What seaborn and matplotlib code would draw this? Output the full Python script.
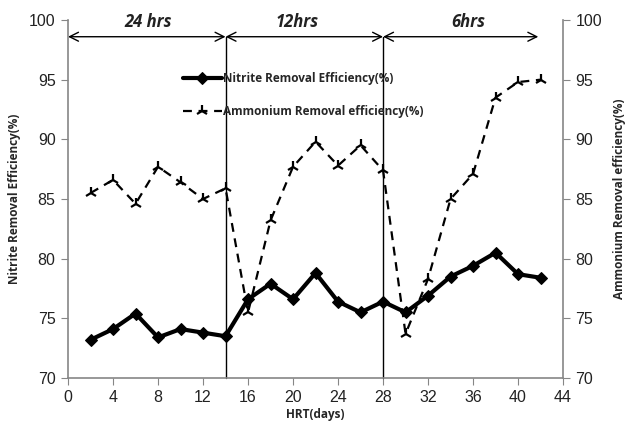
import matplotlib
matplotlib.use("Agg")
import matplotlib.pyplot as plt
import seaborn as sns
import pandas as pd

days = [2, 4, 6, 8, 10, 12, 14, 16, 18, 20, 22, 24, 26, 28, 30, 32, 34, 36, 38, 40, 42]
nitrite = [73.2, 74.1, 75.4, 73.4, 74.1, 73.8, 73.5, 76.6, 77.9, 76.6, 78.8, 76.4,
           75.5, 76.4, 75.5, 76.9, 78.5, 79.4, 80.5, 78.7, 78.4]
ammonium = [85.5, 86.6, 84.6, 87.7, 86.4, 85.0, 85.9, 75.5, 83.2, 87.7, 89.8, 87.8,
            89.5, 87.4, 73.7, 78.3, 85.0, 87.1, 93.5, 94.8, 95.0]
period_bounds = [0, 14, 28, 41.8]
period_labels = ["24 hrs", "12hrs", "6hrs"]
period_label_x = [7.1, 20.4, 35.6]
xticks = list(range(0, 45, 4))
yticks = list(range(70, 101, 5))

df = pd.DataFrame({"day": days, "nitrite": nitrite, "ammonium": ammonium})

sns.set_style("white")
plt.rcParams["font.family"] = ["Liberation Sans", "DejaVu Sans"]
BOLD = ["Open Sans", "DejaVu Sans"]

fig = plt.figure(figsize=(6.27, 4.26), dpi=100)
ax = fig.add_axes([0.1085, 0.1127, 0.7895, 0.8403])
ax2 = ax.twinx()

sns.lineplot(data=df, x="day", y="nitrite", ax=ax, color="black", lw=3,
             marker="D", markersize=6, markeredgecolor="black",
             label="Nitrite Removal Efficiency(%)", legend=False)
sns.lineplot(data=df, x="day", y="ammonium", ax=ax2, color="black", lw=1.6,
             linestyle=(0, (4, 3)), marker="2", markersize=9, markeredgewidth=1.6,
             markeredgecolor="black",
             label="Ammonium Removal efficiency(%)", legend=False)

for a in (ax, ax2):
    a.set_ylim(70, 100)
    a.set_yticks(yticks)
    a.set_xlim(0, 44)
ax.spines["top"].set_visible(False)
ax2.spines["top"].set_visible(False)
ax.spines["right"].set_visible(False)
for a in (ax, ax2):
    for s in ["left", "right", "bottom"]:
        a.spines[s].set_color("#868686")
        a.spines[s].set_linewidth(1.2)
ax2.spines["left"].set_visible(False)
ax2.spines["bottom"].set_visible(False)

ax.set_xticks(xticks)
ax.tick_params(axis="both", direction="out", length=5, color="#868686",
               labelsize=11.5, labelcolor="#222222", pad=4)
ax.tick_params(axis="y", left=True)
ax.tick_params(axis="x", bottom=True)
ax2.tick_params(axis="y", direction="out", length=5, color="#868686",
                labelsize=11.5, labelcolor="#222222", right=True, pad=4)

lab_font = dict(family=BOLD, weight="bold", size=8.5)
ax.set_xlabel("HRT(days)", fontdict=lab_font, labelpad=2)
ax.set_ylabel("Nitrite Removal Efficiency(%)", fontdict=lab_font, labelpad=6)
ax2.set_ylabel("Ammonium Removal efficiency(%)", fontdict=lab_font, labelpad=8)

# period separators and arrows
arrow_y = 98.6
for b in period_bounds[1:-1]:
    ax.plot([b, b], [70, arrow_y], color="black", lw=1, clip_on=False)
for i in range(len(period_labels)):
    ax.annotate("", xy=(period_bounds[i], arrow_y), xytext=(period_bounds[i + 1], arrow_y),
                arrowprops=dict(arrowstyle="<->", color="black", lw=1,
                                mutation_scale=16, shrinkA=0, shrinkB=0),
                annotation_clip=False)
    ax.text(period_label_x[i], 99.8, period_labels[i], ha="center", va="center",
            fontsize=12, fontweight="bold", fontstyle="italic",
            family=BOLD, color="#222222")

h1, l1 = ax.get_legend_handles_labels()
h2, l2 = ax2.get_legend_handles_labels()
leg = ax2.legend(h1 + h2, l1 + l2, loc="upper left", bbox_to_anchor=(0.21, 0.885),
                 frameon=False, handlelength=3.3, handletextpad=0.1, labelspacing=1.75,
                 prop=dict(family=BOLD, weight="bold", size=8.5))

fig.savefig("out.png", dpi=100)
